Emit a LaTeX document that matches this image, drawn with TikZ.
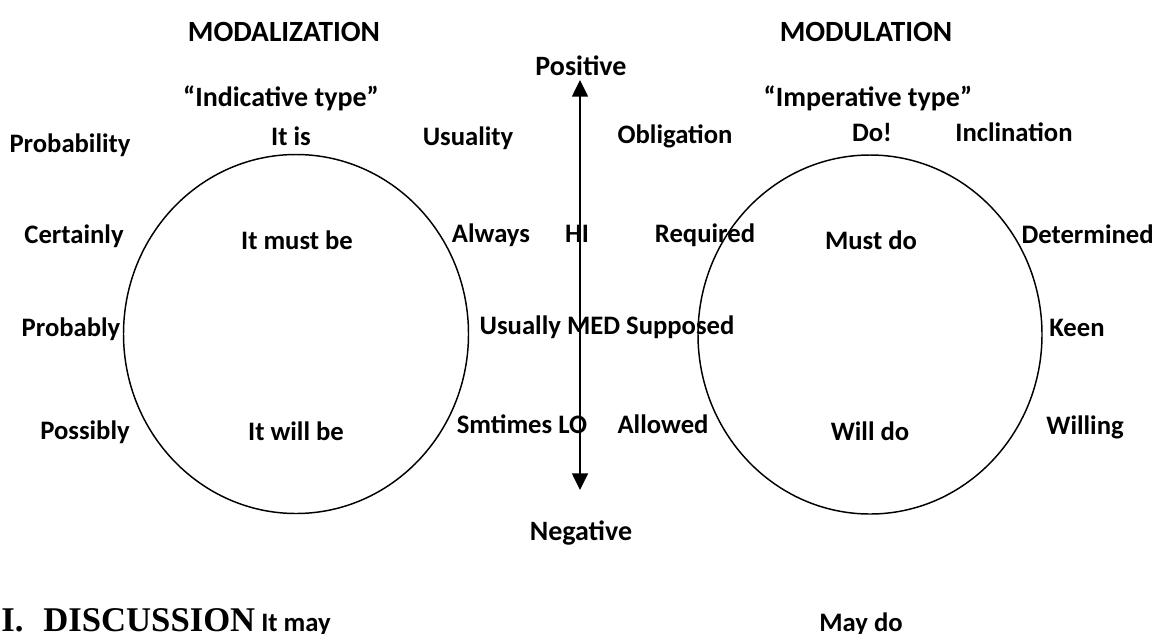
\documentclass[tikz,border=0pt]{standalone}
\usepackage{fontspec}
\setmainfont{Carlito}
\newfontfamily\timesf{Liberation Serif}
\usetikzlibrary{arrows.meta}
\tikzset{
  lbl/.style={font=\fontsize{20}{24}\selectfont\bfseries, inner sep=0pt, anchor=base},
  mid/.style={lbl, font=\fontsize{21}{24}\selectfont\bfseries},
  head/.style={lbl, font=\fontsize{22}{26}\selectfont\bfseries},
  ring/.style={draw=black, line width=1.1pt},
  axis/.style={line width=1.1pt, {Triangle[width=12pt,length=12.5pt]}-{Triangle[width=12pt,length=12.5pt]}}
}
\begin{document}
\begin{tikzpicture}[x=0.75pt,y=-0.75pt]
\useasboundingbox (0,0) rectangle (1156,633);
\clip (0,0) rectangle (1156,633);
% circles
\draw[ring] (296,334) ellipse [x radius=172.5, y radius=179.5];
\draw[ring] (870,334.5) ellipse [x radius=172, y radius=179.5];
% axis
\coordinate (top) at (580,80);
\coordinate (bot) at (580,490);
\draw[axis] (bot) -- (top);
% headings
\node[head] (modz) at (284,41) {MODALIZATION};
\node[head] (modu) at (866,41) {MODULATION};
\node[mid] (pos) at (581,75) {Positive};
\node[mid] (ind) at (281,106) {“Indicative type”};
\node[mid] (imp) at (868,106) {“Imperative type”};
% row 1
\node[lbl] (prob) at (70,152) {Probability};
\node[lbl] (itis) at (291,145) {It is};
\node[lbl] (usu) at (468,145) {Usuality};
\node[lbl] (obl) at (675,143) {Obligation};
\node[lbl] (do) at (872,141) {Do!};
\node[lbl] (incl) at (1014,141) {Inclination};
% row 2
\node[lbl] (cert) at (74,243) {Certainly};
\node[lbl] (must) at (297,249) {It must be};
\node[lbl] (alw) at (491,242) {Always};
\node[lbl] (hi) at (577,242) {HI};
\node[lbl] (req) at (705,242) {Required};
\node[lbl] (mustdo) at (871,249) {Must do};
\node[lbl, anchor=base east] (det) at (1154,243) {Determined};
% row 3
\node[lbl] (probly) at (71,336) {Probably};
\node[lbl] (med) at (607,334) {Usually MED Supposed};
\node[lbl] (keen) at (1077,336) {Keen};
% row 4
\node[lbl] (poss) at (85,439) {Possibly};
\node[lbl] (will) at (296,440) {It will be};
\node[lbl] (lo) at (522,433) {Smtimes LO};
\node[lbl] (allow) at (663,433) {Allowed};
\node[lbl] (willdo) at (870,440) {Will do};
\node[lbl] (willing) at (1085,434) {Willing};
% bottom
\node[mid] (neg) at (581,540) {Negative};
\node[lbl, anchor=base west, font=\timesf\fontsize{26}{30}\selectfont\bfseries] (disc) at (1,631) {I.\hspace{15pt}DISCUSSION};
\node[lbl] (itmay) at (296,631) {It may};
\node[lbl] (maydo) at (861,631) {May do};
\end{tikzpicture}
\end{document}
